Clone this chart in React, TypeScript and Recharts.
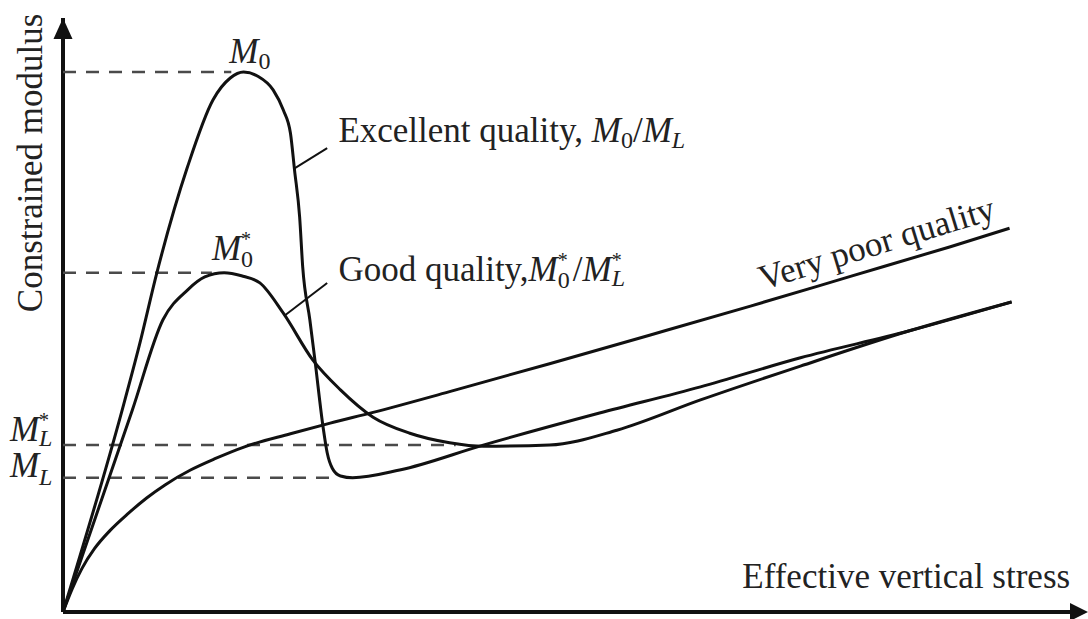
import { LineChart, Line, XAxis, YAxis, ReferenceLine, ReferenceDot } from 'recharts'

const FONT = '"Liberation Serif", "Times New Roman", Times, serif'
const INK = '#111'
const TEXT = '#222'

// effective vertical stress (0-100) for each curve
const excellentX = [0, 5.8, 7.5, 9.2, 12.2, 14.7, 16.4, 17.7, 19.1, 20.6, 21.6, 22.3, 22.7, 23.2, 23.5, 24.2, 24.7, 25.5, 25.9, 26.4, 27.2, 28.4, 33.0, 41.2, 52.6, 62.5, 72.3, 82.9, 93.0]
const excellentY = [0, 34.0, 45.0, 57.1, 74.9, 86.2, 89.9, 90.9, 90.2, 87.9, 84.5, 80.6, 74.4, 66.5, 58.1, 49.2, 42.4, 31.1, 26.8, 24.2, 22.9, 22.6, 23.9, 28.1, 33.5, 37.9, 42.8, 47.3, 52.2]

const goodX = [0, 6.8, 9.8, 12.2, 13.9, 15.8, 17.5, 19.3, 21.6, 24.5, 27.2, 30.4, 34.0, 37.9, 41.2, 47.7, 54.3, 62.5, 72.3, 82.9, 93.0]
const goodY = [0, 34.0, 49.2, 54.2, 56.4, 57.1, 56.6, 55.4, 50.3, 42.4, 37.4, 32.8, 30.1, 28.5, 27.9, 28.1, 30.6, 35.7, 41.4, 47.3, 52.2]

const poorX = [0, 0.9, 1.85, 3.1, 4.6, 6.4, 8.2, 10.0, 12.5, 14.9, 17.8, 22.3, 26.2, 30.4, 37.9, 47.7, 57.5, 67.4, 77.2, 87.0, 92.8]
const poorY = [0, 3.9, 7.3, 10.7, 13.7, 16.6, 19.2, 21.4, 23.9, 25.8, 27.8, 30.0, 31.8, 33.6, 37.1, 41.8, 46.6, 51.5, 56.5, 61.5, 64.6]

// dashed guide levels: M0, M0*, ML*, ML
const guideLevels = [90.9, 57.1, 28.1, 22.6]
const guideEnds = [16.5, 14.6, 38.5, 26.3]

const toPoints = (xs: number[], ys: number[]) => xs.map((x, i) => ({ x, y: ys[i] }))

const excellent = toPoints(excellentX, excellentY)
const good = toPoints(goodX, goodY)
const poor = toPoints(poorX, poorY)

const FS = 35
const SUB = 24

const UpArrow = ({ cx, cy }: any) => (
  <path d={`M${cx},${cy} L${cx - 9.5},${cy + 21} L${cx + 9.5},${cy + 21} Z`} fill={INK} />
)

const RightArrow = ({ cx, cy }: any) => (
  <path d={`M${cx + 5},${cy} L${cx - 13},${cy - 9} L${cx - 13},${cy + 9} Z`} fill={INK} />
)

const txt = { fontFamily: FONT, fill: TEXT }

const M0 = ({ cx, cy }: any) => (
  <text x={cx} y={cy} {...txt} fontSize={FS}>
    <tspan fontStyle="italic">M</tspan>
    <tspan fontSize={SUB} dy={6}>0</tspan>
  </text>
)

const M0Star = ({ cx, cy }: any) => (
  <text x={cx} y={cy} {...txt} fontSize={FS}>
    <tspan fontStyle="italic">M</tspan>
    <tspan fontSize={20} dy={-14}>*</tspan>
    <tspan fontSize={SUB} dx={-10} dy={21}>0</tspan>
  </text>
)

const MLStar = ({ cx, cy }: any) => (
  <text x={cx} y={cy} {...txt} fontSize={FS}>
    <tspan fontStyle="italic">M</tspan>
    <tspan fontSize={20} dy={-14}>*</tspan>
    <tspan fontSize={SUB} fontStyle="italic" dx={-10} dy={19}>L</tspan>
  </text>
)

const ML = ({ cx, cy }: any) => (
  <text x={cx} y={cy} {...txt} fontSize={FS}>
    <tspan fontStyle="italic">M</tspan>
    <tspan fontSize={SUB} fontStyle="italic" dy={8}>L</tspan>
  </text>
)

const ExcellentLabel = ({ cx, cy }: any) => (
  <text x={cx} y={cy} {...txt} fontSize={FS}>
    Excellent quality,{' '}
    <tspan fontStyle="italic">M</tspan>
    <tspan fontSize={SUB} dy={6}>0</tspan>
    <tspan dy={-6}>/</tspan>
    <tspan fontStyle="italic">M</tspan>
    <tspan fontSize={SUB} fontStyle="italic" dy={6}>L</tspan>
  </text>
)

const GoodLabel = ({ cx, cy }: any) => (
  <text x={cx} y={cy} {...txt} fontSize={FS}>
    Good quality,
    <tspan fontStyle="italic">M</tspan>
    <tspan fontSize={20} dy={-14}>*</tspan>
    <tspan fontSize={SUB} dx={-10} dy={21}>0</tspan>
    <tspan dx={3} dy={-7}>/</tspan>
    <tspan fontStyle="italic">M</tspan>
    <tspan fontSize={20} dy={-14}>*</tspan>
    <tspan fontSize={SUB} fontStyle="italic" dx={-10} dy={19}>L</tspan>
  </text>
)

const PoorLabel = ({ cx, cy }: any) => (
  <text x={cx} y={cy} {...txt} fontSize={FS} transform={`rotate(-17 ${cx} ${cy})`}>
    Very poor quality
  </text>
)

const XTitle = ({ cx, cy }: any) => (
  <text x={cx} y={cy} {...txt} fontSize={FS}>
    Effective vertical stress
  </text>
)

const YTitle = ({ cx, cy }: any) => (
  <text x={cx} y={cy} {...txt} fontSize={FS} textAnchor="middle" transform={`rotate(-90 ${cx} ${cy})`}>
    Constrained modulus
  </text>
)

const mark = (key: string, x: number, y: number, Comp: any) => (
  <ReferenceDot
    key={key}
    x={x}
    y={y}
    ifOverflow="visible"
    shape={(p: any) => <Comp cx={p.cx} cy={p.cy} />}
  />
)

export default function App() {
  return (
    <div style={{ position: 'absolute', left: 0, top: 0, background: '#fff' }}>
      <LineChart width={1088} height={619} margin={{ top: 18, right: 5, bottom: 7, left: 63 }}>
        <XAxis type="number" dataKey="x" domain={[0, 100]} hide />
        <YAxis type="number" dataKey="y" domain={[0, 100]} hide />

        {/* axes */}
        <ReferenceLine y={0} stroke={INK} strokeWidth={4} />
        <ReferenceLine x={0} stroke={INK} strokeWidth={4} />

        {guideLevels.map((lvl, i) => (
          <ReferenceLine
            key={`g${i}`}
            segment={[{ x: 0, y: lvl }, { x: guideEnds[i], y: lvl }]}
            stroke="#4a4a4a"
            strokeWidth={2.5}
            strokeDasharray="13 10"
          />
        ))}

        {/* leader lines to the curve labels */}
        <ReferenceLine segment={[{ x: 22.7, y: 74.7 }, { x: 25.9, y: 78.1 }]} stroke={INK} strokeWidth={2} />
        <ReferenceLine segment={[{ x: 21.8, y: 50.0 }, { x: 25.9, y: 55.4 }]} stroke={INK} strokeWidth={2} />

        <Line data={poor} dataKey="y" type="monotone" stroke={INK} strokeWidth={3} dot={false} isAnimationActive={false} />
        <Line data={good} dataKey="y" type="monotone" stroke={INK} strokeWidth={3} dot={false} isAnimationActive={false} />
        <Line data={excellent} dataKey="y" type="monotone" stroke={INK} strokeWidth={3} dot={false} isAnimationActive={false} />

        {mark('ya', 0, 100, UpArrow)}
        {mark('xa', 100, 0, RightArrow)}
        {mark('m0', 16.3, 92.4, M0)}
        {mark('m0s', 14.6, 59.3, M0Star)}
        {mark('mls', -5.2, 28.8, MLStar)}
        {mark('ml', -5.2, 22.7, ML)}
        {mark('exc', 27.0, 79.1, ExcellentLabel)}
        {mark('good', 27.0, 55.7, GoodLabel)}
        {mark('poor', 68.6, 54.2, PoorLabel)}
        {mark('xt', 66.6, 4.0, XTitle)}
        {mark('yt', -2.1, 75.6, YTitle)}
      </LineChart>
    </div>
  )
}
